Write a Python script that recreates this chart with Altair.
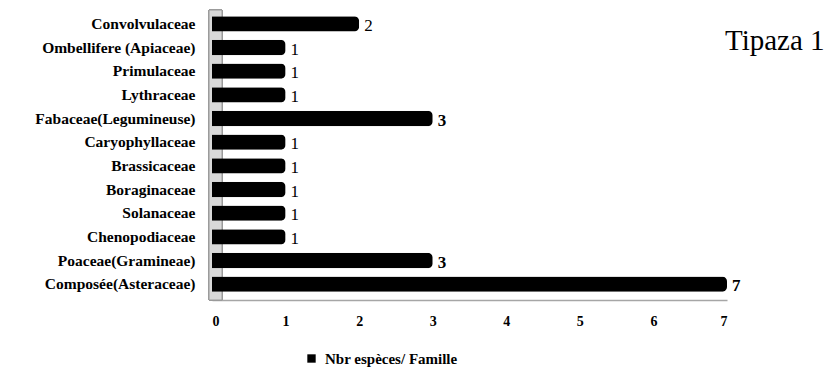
import altair as alt
import pandas as pd

families = [
    "Convolvulaceae", "Ombellifere (Apiaceae)", "Primulaceae", "Lythraceae",
    "Fabaceae(Legumineuse)", "Caryophyllaceae", "Brassicaceae", "Boraginaceae",
    "Solanaceae", "Chenopodiaceae", "Poaceae(Gramineae)", "Composée(Asteraceae)",
]
counts = [2, 1, 1, 1, 3, 1, 1, 1, 1, 1, 3, 7]
series_name = "Nbr espèces/ Famille"
x_ticks = [0, 1, 2, 3, 4, 5, 6, 7]
title_text = "Tipaza 1"

df = pd.DataFrame({"famille": families, "n": counts, "serie": [series_name] * len(families)})

W, H = 515, 284
SERIF = "Liberation Serif"

y_enc = alt.Y("famille:N", sort=families,
              scale=alt.Scale(paddingInner=0.35, paddingOuter=0.175),
              axis=alt.Axis(title=None, domain=False, ticks=False, labelPadding=17))
x_enc = alt.X("n:Q", scale=alt.Scale(domain=[0, 7], nice=False),
              axis=alt.Axis(title=None, values=x_ticks, grid=False, ticks=False,
                            domainColor="#a6a6a6", domainWidth=1.5, offset=4,
                            labelPadding=14, format="d"))

base = alt.Chart(df)

wall = base.mark_rect(fill="#d9d9d9", stroke="#9a9a9a", strokeWidth=1).encode(
    x=alt.value(-3), x2=alt.value(10), y=alt.value(-2), y2=alt.value(H + 4)
)

bars = base.mark_bar(cornerRadiusTopRight=5, cornerRadiusBottomRight=5).encode(
    x=x_enc,
    y=y_enc,
    color=alt.Color("serie:N",
                    scale=alt.Scale(domain=[series_name], range=["#000000"]),
                    legend=alt.Legend(orient="none", legendX=92, legendY=339, title=None,
                                      symbolType="square", symbolSize=70,
                                      symbolStrokeWidth=0, labelOffset=6)),
)

labels_small = base.transform_filter("datum.n < 3").mark_text(
    align="left", baseline="middle", dx=5, dy=2, font=SERIF, fontSize=17, color="black"
).encode(x="n:Q", y=alt.Y("famille:N", sort=families), text="n:Q")

labels_big = base.transform_filter("datum.n >= 3").mark_text(
    align="left", baseline="middle", dx=5, dy=2, font=SERIF, fontSize=17,
    fontWeight="bold", color="black"
).encode(x="n:Q", y=alt.Y("famille:N", sort=families), text="n:Q")

title = alt.Chart(pd.DataFrame({"t": [title_text]})).mark_text(
    align="left", baseline="alphabetic", font=SERIF, fontSize=29, color="black"
).encode(x=alt.value(513), y=alt.value(38), text="t:N")

chart = alt.layer(wall, bars, labels_small, labels_big, title).properties(
    width=W, height=H,
    autosize=alt.AutoSizeParams(type="none"),
    padding={"left": 204, "top": 4, "right": 101, "bottom": 72},
).configure(background="white").configure_view(stroke=None).configure_axisX(
    labelFont=SERIF, labelFontWeight="bold", labelFontSize=14, labelColor="black"
).configure_axisY(
    labelFont=SERIF, labelFontWeight="bold", labelFontSize=15.5, labelColor="black"
).configure_legend(
    labelFont=SERIF, labelFontWeight="bold", labelFontSize=15, labelColor="black"
)

chart.save("out.html", embed_options={"renderer": "svg", "actions": False})
